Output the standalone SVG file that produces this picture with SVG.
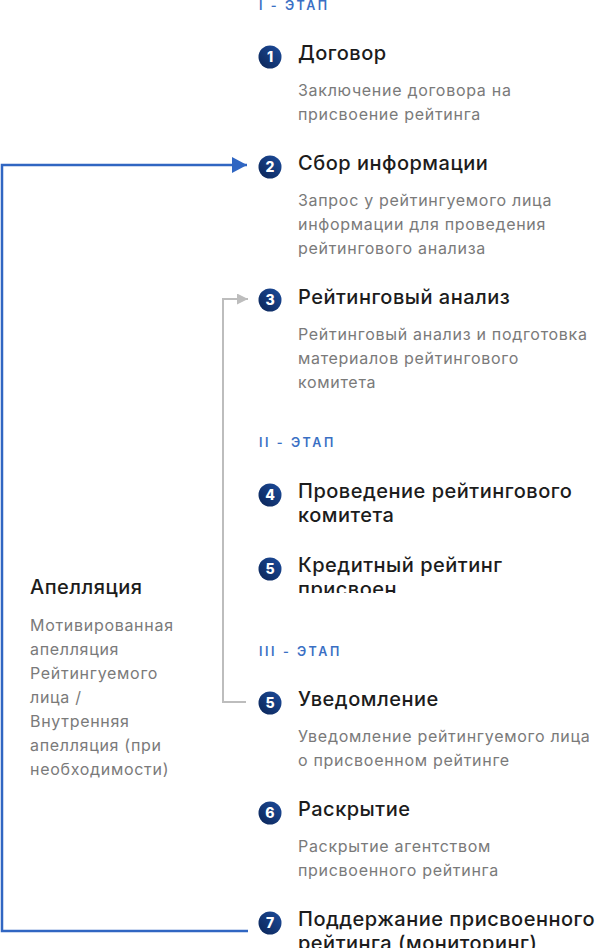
<svg xmlns="http://www.w3.org/2000/svg" width="602" height="951" viewBox="0 0 602 951">
<style>
.stage{font-family:Inter,"Noto Sans",sans-serif;font-size:12.5px;font-weight:600;fill:#3a6fc4;letter-spacing:2.6px}
.title{font-family:Inter,"Noto Sans",sans-serif;font-size:20px;font-weight:500;fill:#1c1c1c;letter-spacing:0.5px}
.desc{font-family:Inter,"Noto Sans",sans-serif;font-size:16px;fill:#7a7a7a;letter-spacing:0.7px}
.num{font-family:Inter,"Noto Sans",sans-serif;font-size:14px;font-weight:800;fill:#fff;text-anchor:middle}
.blue{fill:none;stroke:#3066c2;stroke-width:2.5}
.grey{fill:none;stroke:#bdbdbd;stroke-width:2}
</style>
<defs>
<linearGradient id="g" x1="0" y1="1" x2="1" y2="0">
<stop offset="0" stop-color="#0c2556"/>
<stop offset="1" stop-color="#1c4c9c"/>
</linearGradient>
<marker id="ab" markerWidth="16" markerHeight="16" refX="15" refY="8" orient="auto" markerUnits="userSpaceOnUse">
<path d="M0,0 L15,8 L0,16 Z" fill="#3066c2"/>
</marker>
<marker id="ag" markerWidth="12" markerHeight="12" refX="11" refY="5.5" orient="auto" markerUnits="userSpaceOnUse">
<path d="M0,0 L11,5.5 L0,11 Z" fill="#bdbdbd"/>
</marker>
<clipPath id="c5"><rect x="290" y="540" width="312" height="53"/></clipPath>
<clipPath id="c7"><rect x="290" y="900" width="312" height="48"/></clipPath>
</defs>
<rect width="602" height="951" fill="#fff"/>
<g id="connectors">
<path class="blue" d="M248,931 L2,931 L2,165 L247,165" marker-end="url(#ab)"/>
<path class="grey" d="M246,702 L223,702 L223,299 L248,299" marker-end="url(#ag)"/>
</g>
<g id="stage1"><text class="stage" x="259" y="10">I - ЭТАП</text></g>
<g id="stage2"><text class="stage" x="259" y="447">II - ЭТАП</text></g>
<g id="stage3"><text class="stage" x="259" y="656">III - ЭТАП</text></g>
<g id="n1">
<circle cx="270" cy="57" r="11.5" fill="url(#g)"/><text class="num" x="270" y="62">1</text>
<text class="title" x="298" y="60">Договор</text>
<text class="desc" x="298" y="96">Заключение договора на</text>
<text class="desc" x="298" y="120">присвоение рейтинга</text>
</g>
<g id="n2">
<circle cx="270" cy="167" r="11.5" fill="url(#g)"/><text class="num" x="270" y="172">2</text>
<text class="title" x="298" y="170">Сбор информации</text>
<text class="desc" x="298" y="206">Запрос у рейтингуемого лица</text>
<text class="desc" x="298" y="230">информации для проведения</text>
<text class="desc" x="298" y="254">рейтингового анализа</text>
</g>
<g id="n3">
<circle cx="270" cy="300" r="11.5" fill="url(#g)"/><text class="num" x="270" y="305">3</text>
<text class="title" x="298" y="304">Рейтинговый анализ</text>
<text class="desc" x="298" y="340">Рейтинговый анализ и подготовка</text>
<text class="desc" x="298" y="364">материалов рейтингового</text>
<text class="desc" x="298" y="388">комитета</text>
</g>
<g id="n4">
<circle cx="270" cy="495" r="11.5" fill="url(#g)"/><text class="num" x="270" y="500">4</text>
<text class="title" x="298" y="498">Проведение рейтингового</text>
<text class="title" x="298" y="522">комитета</text>
</g>
<g id="n5a">
<circle cx="270" cy="569" r="11.5" fill="url(#g)"/><text class="num" x="270" y="574">5</text>
<g clip-path="url(#c5)">
<text class="title" x="298" y="572">Кредитный рейтинг</text>
<text class="title" x="298" y="596">присвоен</text>
</g>
</g>
<g id="n5b">
<circle cx="270" cy="703" r="11.5" fill="url(#g)"/><text class="num" x="270" y="708">5</text>
<text class="title" x="298" y="706">Уведомление</text>
<text class="desc" x="298" y="742">Уведомление рейтингуемого лица</text>
<text class="desc" x="298" y="766">о присвоенном рейтинге</text>
</g>
<g id="n6">
<circle cx="270" cy="813" r="11.5" fill="url(#g)"/><text class="num" x="270" y="818">6</text>
<text class="title" x="298" y="816">Раскрытие</text>
<text class="desc" x="298" y="852">Раскрытие агентством</text>
<text class="desc" x="298" y="876">присвоенного рейтинга</text>
</g>
<g id="n7">
<circle cx="270" cy="923" r="11.5" fill="url(#g)"/><text class="num" x="270" y="928">7</text>
<g clip-path="url(#c7)">
<text class="title" x="298" y="926">Поддержание присвоенного</text>
<text class="title" x="298" y="950">рейтинга (мониторинг)</text>
</g>
</g>
<g id="appeal">
<text class="title" x="30" y="594">Апелляция</text>
<text class="desc" x="30" y="631">Мотивированная</text>
<text class="desc" x="30" y="655">апелляция</text>
<text class="desc" x="30" y="679">Рейтингуемого</text>
<text class="desc" x="30" y="703">лица /</text>
<text class="desc" x="30" y="727">Внутренняя</text>
<text class="desc" x="30" y="751">апелляция (при</text>
<text class="desc" x="30" y="775">необходимости)</text>
</g>
</svg>
